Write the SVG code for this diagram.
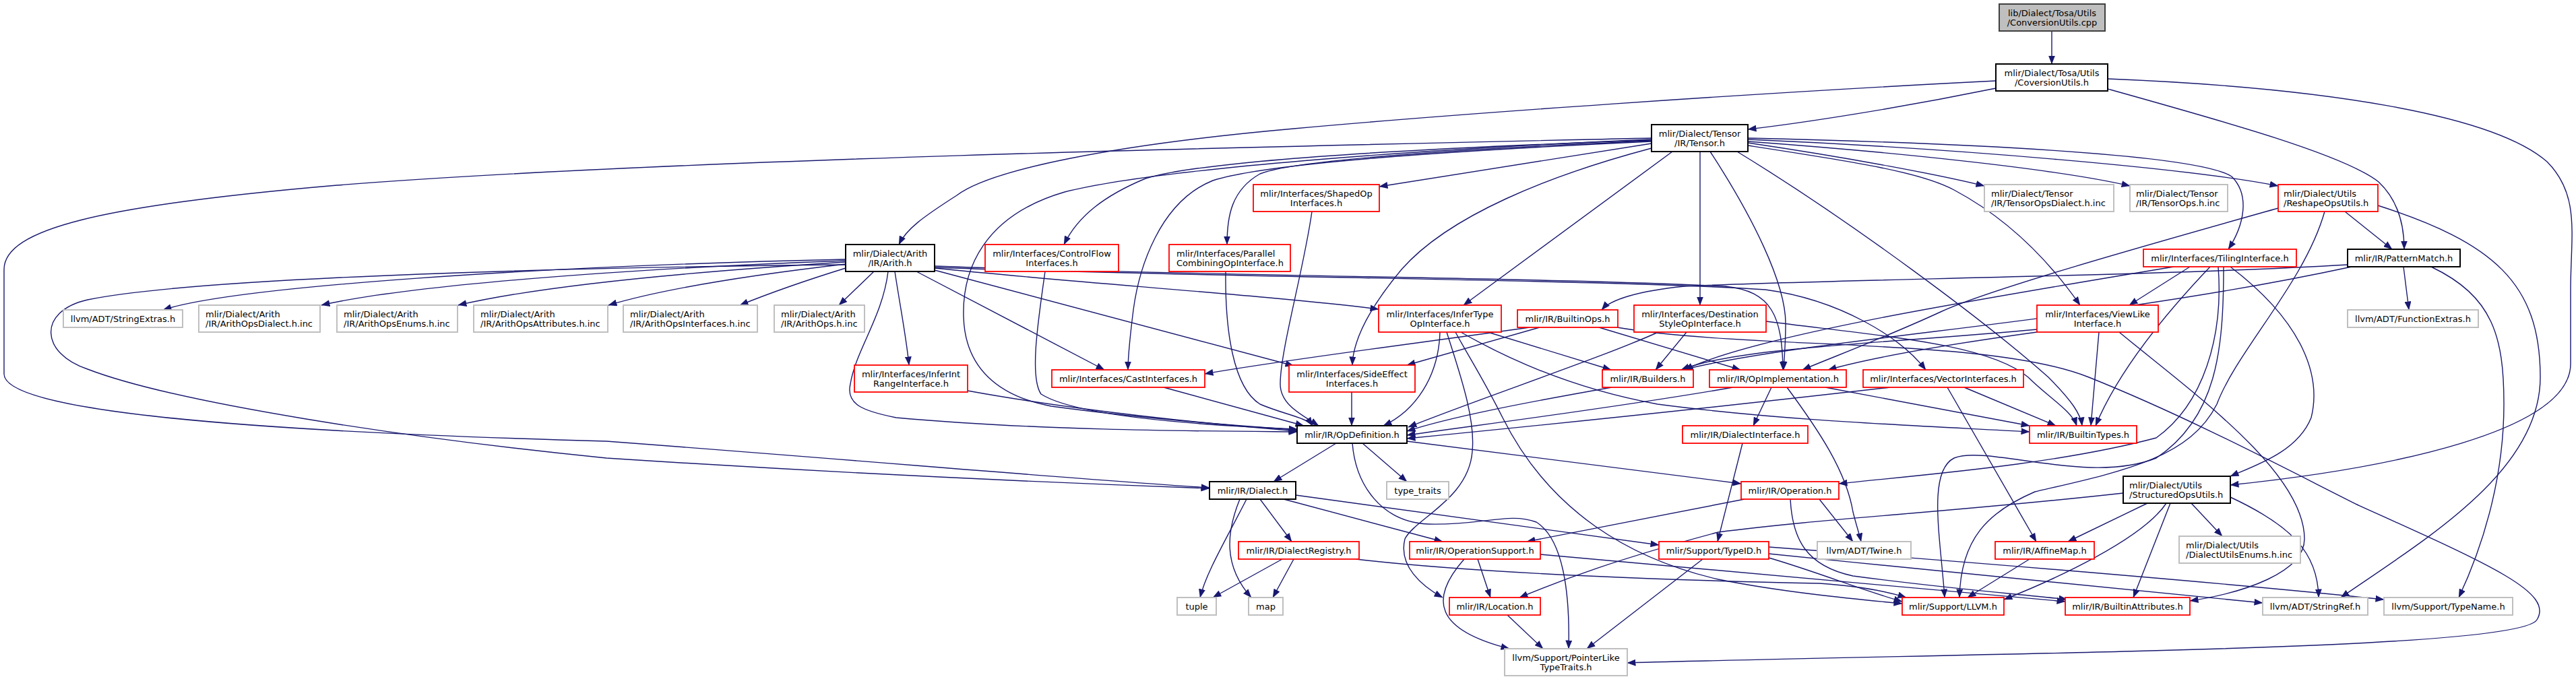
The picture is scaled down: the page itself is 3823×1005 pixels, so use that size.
<svg xmlns="http://www.w3.org/2000/svg" width="3823" height="1005" viewBox="0 0 3823 1005">
<defs>
<marker id="ah" viewBox="0 0 13 10" markerWidth="13" markerHeight="10" refX="12.5" refY="5" orient="auto" markerUnits="userSpaceOnUse">
<path d="M0,0 L13,5 L0,10 z" fill="#191970"/>
</marker>
<style>
.e{fill:none;stroke:#191970;stroke-width:1.4;marker-end:url(#ah)}
.blk{fill:#fff;stroke:#000;stroke-width:2}
.red{fill:#fff;stroke:#ff0000;stroke-width:1.8}
.gry{fill:#fff;stroke:#bfbfbf;stroke-width:2}
.src{fill:#bfbfbf;stroke:#404040;stroke-width:2}
text{font-family:"DejaVu Sans","Liberation Sans",sans-serif;font-size:13px;fill:#000}
.c{text-anchor:middle}
</style>
</defs>
<rect x="0" y="0" width="3823" height="1005" fill="#fff"/>
<g id="edges">
<path class="e" d="M3045,46 L3045,95"/>
<path class="e" d="M2962,120 C2600,138 2150,170 1920,191 C1650,215 1470,252 1420,290 C1370,322 1345,340 1334,363"/>
<path class="e" d="M2962,131 C2820,160 2680,182 2594,192"/>
<path class="e" d="M3128,132 C3300,180 3480,230 3530,270 C3562,300 3568,340 3568,370"/>
<path class="e" d="M3128,117 C3450,130 3700,170 3780,240 C3830,290 3815,350 3815,430 L3815,540 C3815,640 3550,695 3310,720"/>
<path class="e" d="M2451,205 C2000,215 1000,235 500,275 C150,305 6,340 6,400 L6,555 C6,610 350,640 900,655 C1300,685 1600,712 1795,724"/>
<path class="e" d="M2451,207 C2100,222 1720,250 1580,285 C1460,320 1428,400 1430,470 C1432,545 1480,588 1560,603 C1700,622 1850,633 1925,638"/>
<path class="e" d="M2451,208 C2050,222 1780,240 1700,265 C1640,290 1600,320 1579,363"/>
<path class="e" d="M2451,209 C2150,222 1920,238 1870,258 C1828,282 1821,320 1821,363"/>
<path class="e" d="M2451,210 C2150,224 1880,242 1800,268 C1720,300 1690,400 1682,460 C1677,500 1674,530 1674,549"/>
<path class="e" d="M2451,213 L2047,277"/>
<path class="e" d="M2451,220 C2300,260 2150,320 2080,400 C2030,460 2008,505 2007,542"/>
<path class="e" d="M2482,225 L2172,453"/>
<path class="e" d="M2523,225 L2523,453"/>
<path class="e" d="M2538,225 C2600,320 2650,420 2650,480 C2650,510 2648,530 2647,549"/>
<path class="e" d="M2594,216 C2750,240 2850,255 2900,282 C2990,330 3050,400 3087,453"/>
<path class="e" d="M2594,212 C2750,235 2880,260 2945,276"/>
<path class="e" d="M2594,210 C2800,225 3050,250 3161,276"/>
<path class="e" d="M2594,207 C2900,220 3250,250 3381,276"/>
<path class="e" d="M2594,205 C2900,212 3260,228 3312,262 C3340,290 3330,335 3307,370"/>
<path class="e" d="M2578,225 C2750,330 2950,480 3040,560 C3075,595 3088,615 3090,632"/>
<path class="e" d="M1255,393 C900,396 300,410 130,445 C55,462 60,525 130,548 C260,598 600,650 900,680 C1300,706 1600,718 1795,725"/>
<path class="e" d="M1255,385 C800,395 350,425 242,460"/>
<path class="e" d="M1255,387 C900,400 600,425 477,453"/>
<path class="e" d="M1255,389 C1000,405 800,425 680,453"/>
<path class="e" d="M1255,392 C1100,410 980,430 903,453"/>
<path class="e" d="M1255,398 C1200,415 1150,432 1098,453"/>
<path class="e" d="M1297,403 L1245,453"/>
<path class="e" d="M1318,403 C1310,470 1270,520 1262,570 C1255,600 1280,610 1330,620 C1550,640 1800,640 1925,641"/>
<path class="e" d="M1328,403 C1335,450 1345,500 1349,542"/>
<path class="e" d="M1360,403 L1639,549"/>
<path class="e" d="M1387,401 L1920,543"/>
<path class="e" d="M1387,398 C1600,420 1900,440 2046,459"/>
<path class="e" d="M1387,395 C1800,410 2300,412 2560,425 C2630,432 2645,470 2646,549"/>
<path class="e" d="M1387,397 C1800,412 2400,415 2620,430 C2730,445 2820,500 2858,549"/>
<path class="e" d="M1551,403 C1540,480 1528,560 1545,585 C1600,620 1800,632 1925,637"/>
<path class="e" d="M1819,403 C1818,490 1830,575 1870,600 C1905,615 1940,620 1948,632"/>
<path class="e" d="M1947,314 C1935,400 1900,520 1900,570 C1900,600 1930,615 1957,632"/>
<path class="e" d="M1436,580 C1600,610 1800,630 1925,640"/>
<path class="e" d="M1727,575 L1935,632"/>
<path class="e" d="M2006,582 L2006,632"/>
<path class="e" d="M2137,493 C2135,560 2100,610 2053,632"/>
<path class="e" d="M2208,493 L2391,549"/>
<path class="e" d="M2168,493 C2250,540 2350,580 2460,600 C2650,625 2850,632 3012,641"/>
<path class="e" d="M2147,493 C2165,550 2190,620 2185,670 C2180,740 2100,770 2085,800 C2075,840 2110,870 2141,887"/>
<path class="e" d="M2160,493 C2180,530 2200,560 2230,620 C2300,760 2420,830 2550,860 C2650,880 2760,890 2823,896"/>
<path class="e" d="M2270,486 C2100,510 1900,535 1788,555"/>
<path class="e" d="M2285,486 L2088,542"/>
<path class="e" d="M2373,486 L2583,549"/>
<path class="e" d="M2400,486 C2600,520 2950,500 3100,560 C3250,620 3400,700 3500,750 C3700,840 3790,880 3765,920 C3740,965 3000,968 2415,984"/>
<path class="e" d="M2461,493 C2380,530 2200,590 2090,634"/>
<path class="e" d="M2503,493 L2457,549"/>
<path class="e" d="M2621,477 C2800,500 2950,510 3010,560 C3040,590 3075,610 3082,632"/>
<path class="e" d="M2392,575 C2250,600 2150,620 2088,640"/>
<path class="e" d="M2572,575 C2400,605 2200,630 2088,646"/>
<path class="e" d="M2805,575 C2500,610 2250,635 2088,651"/>
<path class="e" d="M2629,575 L2602,632"/>
<path class="e" d="M2709,575 L3012,632"/>
<path class="e" d="M2652,575 C2700,640 2740,700 2750,760 C2755,780 2760,795 2762,804"/>
<path class="e" d="M2915,575 L3051,632"/>
<path class="e" d="M2890,575 L3022,804"/>
<path class="e" d="M3023,489 C2800,510 2580,515 2495,549"/>
<path class="e" d="M3023,493 C2900,510 2780,530 2713,549"/>
<path class="e" d="M3115,493 L3103,632"/>
<path class="e" d="M3145,493 C3250,580 3420,700 3420,800 C3420,850 3330,880 3250,892"/>
<path class="e" d="M3226,396 C2900,450 2600,500 2500,549"/>
<path class="e" d="M3250,396 L3160,453"/>
<path class="e" d="M3280,396 C3200,480 3140,560 3110,632"/>
<path class="e" d="M3292,396 C3300,500 3270,600 3200,650 C3050,690 2850,705 2729,718"/>
<path class="e" d="M3300,396 C3300,520 3290,620 3200,680 C3100,720 2950,660 2900,680 C2860,700 2880,800 2886,887"/>
<path class="e" d="M3310,396 C3420,480 3445,560 3430,620 C3410,670 3350,690 3310,707"/>
<path class="e" d="M3484,393 C3200,410 2700,415 2500,425 C2430,432 2390,445 2377,460"/>
<path class="e" d="M3490,396 C3100,480 2700,500 2497,549"/>
<path class="e" d="M3567,396 L3575,460"/>
<path class="e" d="M3608,396 C3700,440 3716,500 3716,600 C3716,700 3690,800 3649,887"/>
<path class="e" d="M3480,314 L3550,370"/>
<path class="e" d="M3529,305 C3700,360 3770,420 3770,560 C3770,700 3600,800 3474,887"/>
<path class="e" d="M3450,314 C3420,420 3320,520 3290,600 C3250,680 3150,700 3020,730 C2950,760 2910,800 2908,887"/>
<path class="e" d="M3381,309 C3200,360 2950,430 2880,463 C2800,500 2720,530 2675,549"/>
<path class="e" d="M3187,747 L3069,804"/>
<path class="e" d="M3215,747 C3180,800 3050,860 2974,890"/>
<path class="e" d="M3221,747 L3166,887"/>
<path class="e" d="M3252,747 L3298,796"/>
<path class="e" d="M3310,738 C3400,780 3440,820 3441,887"/>
<path class="e" d="M3151,732 C2900,760 2700,770 2550,790 C2400,830 2320,860 2255,887"/>
<path class="e" d="M1983,658 L1890,715"/>
<path class="e" d="M2022,658 L2088,715"/>
<path class="e" d="M2007,658 C2012,720 2050,775 2120,778 C2200,780 2240,760 2280,775 C2320,800 2330,880 2328,963"/>
<path class="e" d="M2088,655 L2584,718"/>
<path class="e" d="M1870,741 L1917,804"/>
<path class="e" d="M1905,741 L2141,804"/>
<path class="e" d="M1923,735 L2462,809"/>
<path class="e" d="M1850,741 C1820,800 1790,850 1781,887"/>
<path class="e" d="M1840,741 C1820,790 1815,840 1857,887"/>
<path class="e" d="M1903,830 L1800,887"/>
<path class="e" d="M1920,830 L1889,887"/>
<path class="e" d="M2012,830 C2200,852 2500,862 2700,866 C2760,870 2800,878 2829,887"/>
<path class="e" d="M2193,830 L2212,887"/>
<path class="e" d="M2173,830 C2120,890 2130,935 2240,963"/>
<path class="e" d="M2286,823 C2600,850 2900,880 3065,893"/>
<path class="e" d="M2589,741 L2266,804"/>
<path class="e" d="M2700,741 L2750,804"/>
<path class="e" d="M2657,741 C2660,800 2680,840 2750,855 C2900,875 3000,882 3068,890"/>
<path class="e" d="M2527,830 L2355,963"/>
<path class="e" d="M2625,828 C2700,850 2760,875 2823,893"/>
<path class="e" d="M2625,822 C2900,850 3200,880 3358,895"/>
<path class="e" d="M2625,812 C3000,840 3350,870 3538,890"/>
<path class="e" d="M2586,658 L2549,804"/>
<path class="e" d="M2237,913 L2290,963"/>
<path class="e" d="M3012,830 L2920,887"/>
</g>
<g id="n_src"><rect class="src" x="2967" y="6" width="157" height="40"/><text class="c" x="3045.5" y="23.5">lib/Dialect/Tosa/Utils</text><text class="c" x="3045.5" y="37.5">/ConversionUtils.cpp</text></g>
<g id="n_convh"><rect class="blk" x="2962" y="95" width="166" height="40"/><text class="c" x="3045" y="112.5">mlir/Dialect/Tosa/Utils</text><text class="c" x="3045" y="126.5">/CoversionUtils.h</text></g>
<g id="n_tensor"><rect class="blk" x="2451" y="185" width="143" height="40"/><text class="c" x="2522.5" y="202.5">mlir/Dialect/Tensor</text><text class="c" x="2522.5" y="216.5">/IR/Tensor.h</text></g>
<g id="n_shaped"><rect class="red" x="1860" y="274" width="187" height="40"/><text class="c" x="1953.5" y="291.5">mlir/Interfaces/ShapedOp</text><text class="c" x="1953.5" y="305.5">Interfaces.h</text></g>
<g id="n_tdialect"><rect class="gry" x="2945" y="274" width="192" height="40"/><text x="2955" y="291.5">mlir/Dialect/Tensor</text><text x="2955" y="305.5">/IR/TensorOpsDialect.h.inc</text></g>
<g id="n_tops"><rect class="gry" x="3161" y="274" width="145" height="40"/><text x="3170" y="291.5">mlir/Dialect/Tensor</text><text x="3170" y="305.5">/IR/TensorOps.h.inc</text></g>
<g id="n_reshape"><rect class="red" x="3381" y="274" width="148" height="40"/><text x="3389" y="291.5">mlir/Dialect/Utils</text><text x="3389" y="305.5">/ReshapeOpsUtils.h</text></g>
<g id="n_arith"><rect class="blk" x="1255" y="363" width="132" height="40"/><text class="c" x="1321" y="380.5">mlir/Dialect/Arith</text><text class="c" x="1321" y="394.5">/IR/Arith.h</text></g>
<g id="n_cf"><rect class="red" x="1462" y="363" width="198" height="40"/><text class="c" x="1561" y="380.5">mlir/Interfaces/ControlFlow</text><text class="c" x="1561" y="394.5">Interfaces.h</text></g>
<g id="n_parallel"><rect class="red" x="1735" y="363" width="180" height="40"/><text x="1746" y="380.5">mlir/Interfaces/Parallel</text><text x="1746" y="394.5">CombiningOpInterface.h</text></g>
<g id="n_tiling"><rect class="red" x="3181" y="370" width="227" height="26"/><text class="c" x="3294.5" y="387.5">mlir/Interfaces/TilingInterface.h</text></g>
<g id="n_pattern"><rect class="blk" x="3484" y="370" width="167" height="26"/><text class="c" x="3567.5" y="387.5">mlir/IR/PatternMatch.h</text></g>
<g id="n_strext"><rect class="gry" x="94" y="460" width="177" height="26"/><text class="c" x="182.5" y="477.5">llvm/ADT/StringExtras.h</text></g>
<g id="n_aodialect"><rect class="gry" x="295" y="453" width="180" height="40"/><text x="305" y="470.5">mlir/Dialect/Arith</text><text x="305" y="484.5">/IR/ArithOpsDialect.h.inc</text></g>
<g id="n_aoenums"><rect class="gry" x="500" y="453" width="179" height="40"/><text x="510" y="470.5">mlir/Dialect/Arith</text><text x="510" y="484.5">/IR/ArithOpsEnums.h.inc</text></g>
<g id="n_aoattr"><rect class="gry" x="703" y="453" width="199" height="40"/><text x="713" y="470.5">mlir/Dialect/Arith</text><text x="713" y="484.5">/IR/ArithOpsAttributes.h.inc</text></g>
<g id="n_aoiface"><rect class="gry" x="925" y="453" width="199" height="40"/><text x="935" y="470.5">mlir/Dialect/Arith</text><text x="935" y="484.5">/IR/ArithOpsInterfaces.h.inc</text></g>
<g id="n_aoops"><rect class="gry" x="1149" y="453" width="134" height="40"/><text x="1159" y="470.5">mlir/Dialect/Arith</text><text x="1159" y="484.5">/IR/ArithOps.h.inc</text></g>
<g id="n_infertype"><rect class="red" x="2046" y="453" width="182" height="40"/><text class="c" x="2137" y="470.5">mlir/Interfaces/InferType</text><text class="c" x="2137" y="484.5">OpInterface.h</text></g>
<g id="n_builtinops"><rect class="red" x="2252" y="460" width="149" height="26"/><text class="c" x="2326.5" y="477.5">mlir/IR/BuiltinOps.h</text></g>
<g id="n_dest"><rect class="red" x="2425" y="453" width="196" height="40"/><text class="c" x="2523" y="470.5">mlir/Interfaces/Destination</text><text class="c" x="2523" y="484.5">StyleOpInterface.h</text></g>
<g id="n_viewlike"><rect class="red" x="3023" y="453" width="180" height="40"/><text class="c" x="3113" y="470.5">mlir/Interfaces/ViewLike</text><text class="c" x="3113" y="484.5">Interface.h</text></g>
<g id="n_funcext"><rect class="gry" x="3484" y="460" width="194" height="26"/><text class="c" x="3581" y="477.5">llvm/ADT/FunctionExtras.h</text></g>
<g id="n_inferint"><rect class="red" x="1268" y="542" width="168" height="40"/><text class="c" x="1352" y="559.5">mlir/Interfaces/InferInt</text><text class="c" x="1352" y="573.5">RangeInterface.h</text></g>
<g id="n_cast"><rect class="red" x="1561" y="549" width="227" height="26"/><text class="c" x="1674.5" y="566.5">mlir/Interfaces/CastInterfaces.h</text></g>
<g id="n_sideeffect"><rect class="red" x="1913" y="542" width="187" height="40"/><text class="c" x="2006.5" y="559.5">mlir/Interfaces/SideEffect</text><text class="c" x="2006.5" y="573.5">Interfaces.h</text></g>
<g id="n_builders"><rect class="red" x="2378" y="549" width="135" height="26"/><text class="c" x="2445.5" y="566.5">mlir/IR/Builders.h</text></g>
<g id="n_opimpl"><rect class="red" x="2537" y="549" width="203" height="26"/><text class="c" x="2638.5" y="566.5">mlir/IR/OpImplementation.h</text></g>
<g id="n_vector"><rect class="red" x="2765" y="549" width="238" height="26"/><text class="c" x="2884" y="566.5">mlir/Interfaces/VectorInterfaces.h</text></g>
<g id="n_opdef"><rect class="blk" x="1925" y="632" width="163" height="26"/><text class="c" x="2006.5" y="649.5">mlir/IR/OpDefinition.h</text></g>
<g id="n_dialectiface"><rect class="red" x="2497" y="632" width="186" height="26"/><text class="c" x="2590" y="649.5">mlir/IR/DialectInterface.h</text></g>
<g id="n_builtintypes"><rect class="red" x="3012" y="632" width="159" height="26"/><text class="c" x="3091.5" y="649.5">mlir/IR/BuiltinTypes.h</text></g>
<g id="n_dialect"><rect class="blk" x="1795" y="715" width="128" height="26"/><text class="c" x="1859" y="732.5">mlir/IR/Dialect.h</text></g>
<g id="n_typetraits"><rect class="gry" x="2058" y="715" width="92" height="26"/><text class="c" x="2104" y="732.5">type_traits</text></g>
<g id="n_operation"><rect class="red" x="2584" y="715" width="145" height="26"/><text class="c" x="2656.5" y="732.5">mlir/IR/Operation.h</text></g>
<g id="n_structured"><rect class="blk" x="3151" y="707" width="159" height="40"/><text x="3160" y="724.5">mlir/Dialect/Utils</text><text x="3160" y="738.5">/StructuredOpsUtils.h</text></g>
<g id="n_registry"><rect class="red" x="1838" y="804" width="179" height="26"/><text class="c" x="1927.5" y="821.5">mlir/IR/DialectRegistry.h</text></g>
<g id="n_opsupport"><rect class="red" x="2092" y="804" width="194" height="26"/><text class="c" x="2189" y="821.5">mlir/IR/OperationSupport.h</text></g>
<g id="n_typeid"><rect class="red" x="2462" y="804" width="163" height="26"/><text class="c" x="2543.5" y="821.5">mlir/Support/TypeID.h</text></g>
<g id="n_twine"><rect class="gry" x="2697" y="804" width="139" height="26"/><text class="c" x="2766.5" y="821.5">llvm/ADT/Twine.h</text></g>
<g id="n_affine"><rect class="red" x="2961" y="804" width="147" height="26"/><text class="c" x="3034.5" y="821.5">mlir/IR/AffineMap.h</text></g>
<g id="n_dutilsenums"><rect class="gry" x="3234" y="796" width="180" height="40"/><text x="3244" y="813.5">mlir/Dialect/Utils</text><text x="3244" y="827.5">/DialectUtilsEnums.h.inc</text></g>
<g id="n_tuple"><rect class="gry" x="1747" y="887" width="58" height="26"/><text class="c" x="1776" y="904.5">tuple</text></g>
<g id="n_map"><rect class="gry" x="1853" y="887" width="51" height="26"/><text class="c" x="1878.5" y="904.5">map</text></g>
<g id="n_location"><rect class="red" x="2151" y="887" width="135" height="26"/><text class="c" x="2218.5" y="904.5">mlir/IR/Location.h</text></g>
<g id="n_llvm"><rect class="red" x="2823" y="887" width="151" height="26"/><text class="c" x="2898.5" y="904.5">mlir/Support/LLVM.h</text></g>
<g id="n_battr"><rect class="red" x="3065" y="887" width="185" height="26"/><text class="c" x="3157.5" y="904.5">mlir/IR/BuiltinAttributes.h</text></g>
<g id="n_stringref"><rect class="gry" x="3358" y="887" width="156" height="26"/><text class="c" x="3436" y="904.5">llvm/ADT/StringRef.h</text></g>
<g id="n_typename"><rect class="gry" x="3538" y="887" width="191" height="26"/><text class="c" x="3633.5" y="904.5">llvm/Support/TypeName.h</text></g>
<g id="n_ptrlike"><rect class="gry" x="2233" y="963" width="182" height="40"/><text class="c" x="2324" y="980.5">llvm/Support/PointerLike</text><text class="c" x="2324" y="994.5">TypeTraits.h</text></g>
</svg>
